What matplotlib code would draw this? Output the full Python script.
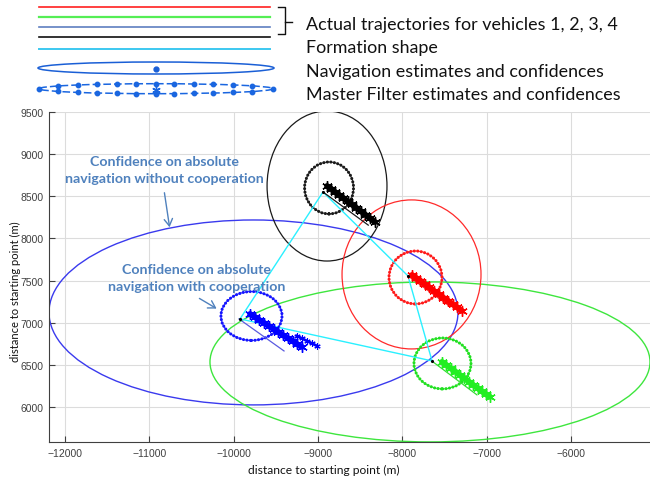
import matplotlib
matplotlib.use("Agg")
import matplotlib.pyplot as plt
from matplotlib.patches import Ellipse
import numpy as np

# ---------------- data (metres) ----------------
vehicles = ["red", "green", "blue", "black"]
# formation vertices (true start positions)
form_x = [-9925, -8941, -7933, -7648, -9925]   # blue, black, red, green, blue
form_y = [7045, 8551, 7555, 6547, 7045]

# actual trajectories (start, end)
traj_black_x = [-8941, -8404]; traj_black_y = [8551, 8158]
traj_red_x = [-7933, -7430];   traj_red_y = [7555, 7190]
traj_green_x = [-7636, -7115]; traj_green_y = [6535, 6144]
traj_blue_x = [-9937, -9403];  traj_blue_y = [7045, 6665]

# navigation estimates (asterisk bands)
est_black_x = [-8893, -8845, -8800, -8755, -8700, -8650, -8600, -8550, -8495, -8440, -8385, -8324]
est_black_y = [8622, 8590, 8552, 8520, 8480, 8440, 8404, 8366, 8325, 8283, 8240, 8195]
est_red_x = [-7885, -7835, -7785, -7730, -7680, -7625, -7570, -7515, -7460, -7405, -7350, -7292]
est_red_y = [7567, 7530, 7498, 7455, 7420, 7378, 7340, 7298, 7262, 7220, 7182, 7140]
est_green_x = [-7530, -7480, -7425, -7370, -7320, -7265, -7210, -7160, -7105, -7055, -7005, -6960]
est_green_y = [6535, 6500, 6458, 6420, 6380, 6342, 6300, 6262, 6222, 6185, 6150, 6120]
est_blue_x = [-9806, -9750, -9695, -9640, -9585, -9525, -9470, -9415, -9360, -9300, -9245, -9190]
est_blue_y = [7104, 7070, 7032, 6998, 6962, 6925, 6890, 6852, 6818, 6783, 6745, 6713]
est_blue2_x = [-9249, -9190, -9130, -9070, -9012]
est_blue2_y = [6843, 6813, 6784, 6754, 6725]

# confidence ellipses: centre x, centre y, full width, full height
conf_blue = (-9765, 7122, 4850, 2194)
conf_green = (-7672, 6535, 5218, 1898)
conf_black = (-8893, 8622, 1422, 1780)
conf_red = (-7891, 7573, 1648, 1768)
# master filter confidences
mf_black = (-8869, 8599, 580, 616)
mf_red = (-7844, 7537, 628, 628)
mf_green = (-7524, 6517, 676, 604)
mf_blue = (-9789, 7080, 724, 580)

xticks = [-12000, -11000, -10000, -9000, -8000, -7000, -6000]
yticks = [6000, 6500, 7000, 7500, 8000, 8500, 9000, 9500]

legend_labels = ["Actual trajectories for vehicles 1, 2, 3, 4",
                 "Formation shape",
                 "Navigation estimates and confidences",
                 "Master Filter estimates and confidences"]
note1 = ["Confidence on absolute", "navigation without cooperation"]
note2 = ["Confidence on absolute", "navigation with cooperation"]
xlabel = "distance to starting point (m)"
ylabel = "distance to starting point (m)"

# ---------------- colours ----------------
C_RED = "#ff2a2a"
C_GREEN = "#3ee63e"
C_BLUE = "#3a3aee"
C_BLACK = "#1a1a1a"
C_CYAN = "#2af0ff"
C_NOTE = "#4f81bd"

W, H = 650, 481
fig = plt.figure(figsize=(W / 100, H / 100), dpi=100)

ax = fig.add_axes([49 / W, 38 / H, 601 / W, 330 / H])
ax.set_xlim(-12190, -5063)
ax.set_ylim(5585, 9500)
ax.set_xticks(xticks)
ax.set_yticks(yticks)
ax.grid(True, color="#dcdcdc", lw=0.8)
ax.set_axisbelow(True)
for s in ["top", "right"]:
    ax.spines[s].set_visible(False)
for s in ["left", "bottom"]:
    ax.spines[s].set_color("#404040")
    ax.spines[s].set_linewidth(0.8)
ax.tick_params(direction="in", length=4, width=0.8, color="#404040",
               labelcolor="#404040", labelsize=7.5, pad=4)
for lab in ax.get_xticklabels() + ax.get_yticklabels():
    lab.set_family("Liberation Sans")


def ell(c, color, lw=1.0, ls="-", z=2):
    e = Ellipse((c[0], c[1]), c[2], c[3], fill=False, edgecolor=color, lw=lw,
                linestyle=ls, zorder=z, capstyle="round")
    ax.add_patch(e)


ell(conf_blue, C_BLUE, 1.0)
ell(conf_green, C_GREEN, 1.0)
ell(conf_black, C_BLACK, 0.9)
ell(conf_red, C_RED, 0.9)

dot_ls = (0, (0.05, 1.1))
for c, col in [(mf_black, C_BLACK), (mf_red, "#ff1a1a"), (mf_green, "#22e022"), (mf_blue, "#1515ff")]:
    ell(c, col, 0.6, "-", 3)
    ell(c, col, 2.2, dot_ls, 3)

ax.plot(form_x, form_y, color=C_CYAN, lw=1.0, zorder=4)

ax.plot(traj_black_x, traj_black_y, color=C_BLACK, lw=0.9, zorder=4)
ax.plot(traj_red_x, traj_red_y, color="#ee3030", lw=0.9, zorder=4)
ax.plot(traj_green_x, traj_green_y, color="#33dd33", lw=0.9, zorder=4)
ax.plot(traj_blue_x, traj_blue_y, color="#5a5ae0", lw=0.9, zorder=4)

star = (6, 2, 0)
for ex, ey, col in [(est_black_x, est_black_y, "#000000"), (est_red_x, est_red_y, "#ff0000"),
                    (est_green_x, est_green_y, "#22ee22"), (est_blue_x, est_blue_y, "#0000ff")]:
    ax.plot(ex, ey, color=col, lw=4.2, zorder=5, solid_capstyle="round")
    ax.plot(ex, ey, ls="none", marker=star, ms=7.5, mew=1.0, color=col, zorder=5)
ax.plot(est_blue2_x, est_blue2_y, color="#0000ff", lw=2.0, zorder=5)
ax.plot(est_blue2_x, est_blue2_y, ls="none", marker=star, ms=4.5, mew=0.8, color="#0000ff", zorder=5)
ax.plot(form_x[:-1], form_y[:-1], ls="none", marker=".", ms=2.5, color="#000000", zorder=6)

# ---------------- overlay in pixel coords ----------------
ov = fig.add_axes([0, 0, 1, 1])
ov.set_xlim(0, W)
ov.set_ylim(H, 0)
ov.axis("off")
ov.patch.set_alpha(0)

for yy, col, lw in [(7.5, "#ff2020", 1.2), (17.5, "#55ee55", 1.6), (27.5, "#5f7fc0", 1.2),
                    (37.5, "#111111", 1.2), (50, "#3cc8f0", 1.4)]:
    ov.plot([38.5, 270], [yy, yy], color=col, lw=lw)
ov.plot([278, 285, 285, 278], [8.3, 8.3, 35, 35], color="#111111", lw=1.0)
ov.plot([285, 292], [22.5, 22.5], color="#111111", lw=1.0)

# nav estimate legend symbol
ov.add_patch(Ellipse((156, 69), 236, 12, fill=False, edgecolor="#1a5fd6", lw=1.1))
ov.plot([156], [70], marker="o", ms=3.5, color="#1a5fd6")
# master filter legend symbol
ov.add_patch(Ellipse((156, 89.7), 234, 10, fill=False, edgecolor="#1a66e0", lw=1.1, linestyle=(0, (5, 2))))
dx = np.array([58.3, 78.3, 97.3, 116.7, 136, 155.7, 174.3, 194, 213.3, 232.7, 252.3])
ry = 5 * np.sqrt(np.clip(1 - ((dx - 156) / 117) ** 2, 0, 1))
ov.plot(dx, 89.7 - ry, ls="none", marker="o", ms=3.2, color="#1a66e0")
ov.plot(dx, 89.7 + ry, ls="none", marker="o", ms=3.2, color="#1a66e0")
ov.plot([39, 272.7], [89.7, 89.7], ls="none", marker="o", ms=3.2, color="#1a66e0")
ov.plot([156], [91], ls="none", marker=star, ms=6, mew=1.0, color="#1a66e0")

fig.canvas.draw()
rend = fig.canvas.get_renderer()


def fit(t, target):
    bb = t.get_window_extent(rend)
    t.set_fontsize(t.get_fontsize() * target / bb.width)


base = [30, 53.3, 76.7, 100]
legs = []
for lab, b in zip(legend_labels, base):
    legs.append(ov.text(306, b, lab, fontsize=12, family="Lato", color="#111111", va="baseline", ha="left"))
fit(legs[0], 309)
for t in legs[1:]:
    t.set_fontsize(legs[0].get_fontsize())

n1a = ov.text(164, 166, note1[0], fontsize=10, family="Lato", weight="bold", color=C_NOTE, ha="center", va="baseline")
n1b = ov.text(164, 183.5, note1[1], fontsize=10, family="Lato", weight="bold", color=C_NOTE, ha="center", va="baseline")
fit(n1b, 198)
n1a.set_fontsize(n1b.get_fontsize())
n2a = ov.text(197, 274, note2[0], fontsize=10, family="Lato", weight="bold", color=C_NOTE, ha="center", va="baseline")
n2b = ov.text(197, 291.5, note2[1], fontsize=10, family="Lato", weight="bold", color=C_NOTE, ha="center", va="baseline")
n2a.set_fontsize(n1b.get_fontsize())
n2b.set_fontsize(n1b.get_fontsize())

ov.annotate("", xy=(170, 231), xytext=(164, 191),
            arrowprops=dict(arrowstyle="->,head_length=0.5,head_width=0.3", color=C_NOTE, lw=1.0))
ov.annotate("", xy=(219, 311), xytext=(197, 298),
            arrowprops=dict(arrowstyle="->,head_length=0.5,head_width=0.3", color=C_NOTE, lw=1.0))

xl = ov.text(324, 470, xlabel, fontsize=10, family="Lato", color="#111111", ha="center", va="center")
fit(xl, 152)
yl = ov.text(15, 292, ylabel, fontsize=10, family="Lato", color="#111111", ha="center", va="center", rotation=90)
bb = yl.get_window_extent(rend)
yl.set_fontsize(yl.get_fontsize() * 140 / bb.height)

fig.savefig("out.png", dpi=100)
